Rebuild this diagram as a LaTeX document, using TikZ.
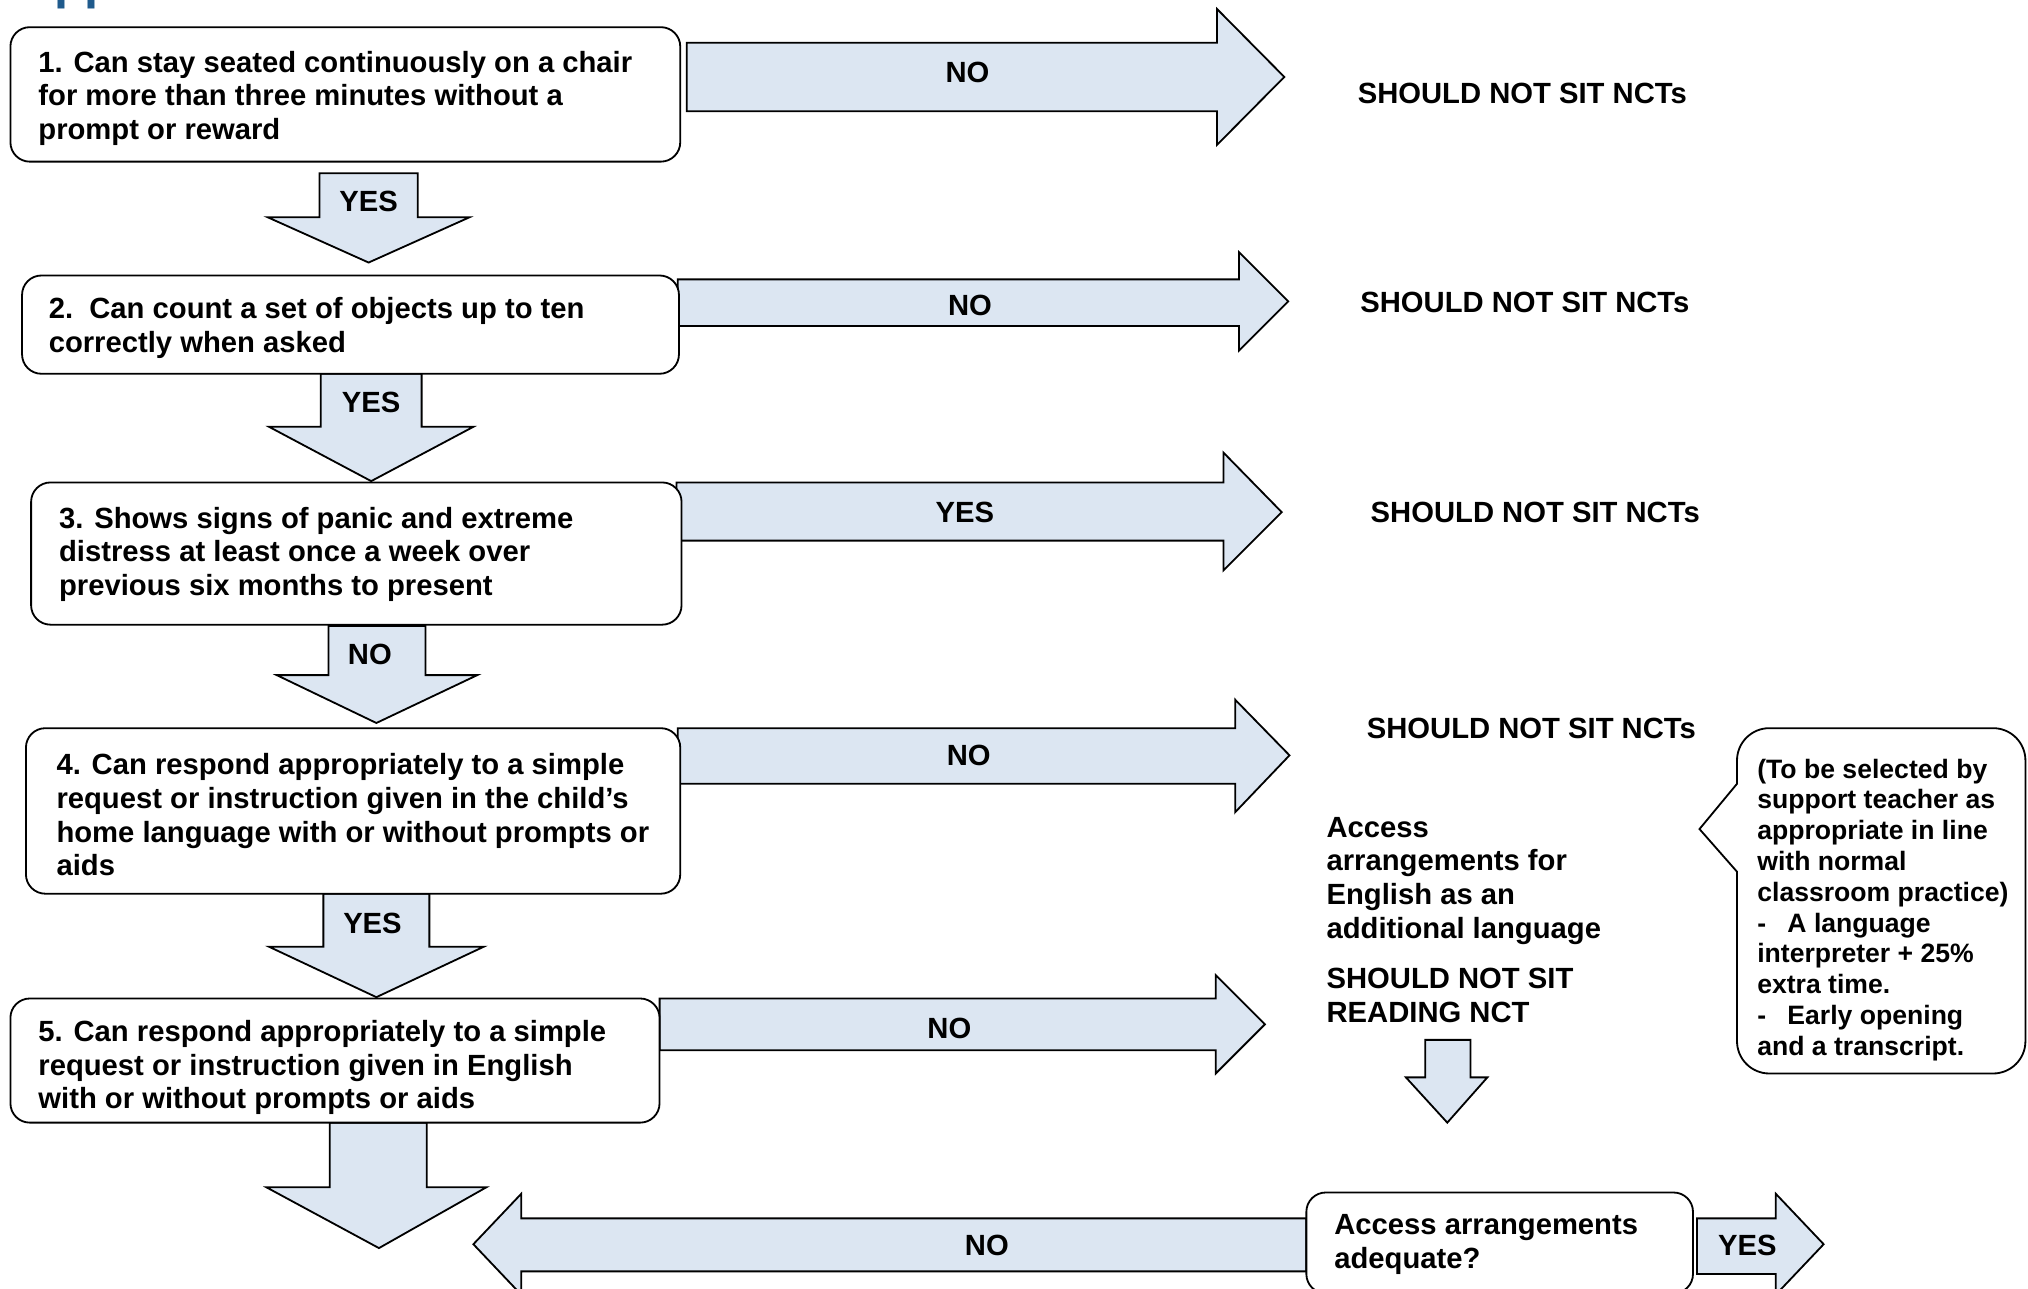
\documentclass[tikz,border=0pt]{standalone}
\usepackage{fontspec}
\setmainfont{Liberation Sans}
\usepackage{tikz}

\definecolor{armfill}{RGB}{220,230,242}
\definecolor{headblue}{RGB}{31,90,140}
\newcommand{\txt}{\bfseries\fontsize{12.86}{14.8}\selectfont}
\newcommand{\notetxt}{\bfseries\fontsize{11.7}{13.55}\selectfont}

\tikzset{
  qbox/.style={draw, fill=white, rounded corners=0.3cm, inner sep=0pt},
  qtext/.style={anchor=west, align=left, inner sep=0pt, font=\txt},
  fat/.style={draw, fill=armfill},
  lbl/.style={inner sep=0pt, font=\txt}
}

\begin{document}
\begin{tikzpicture}[x=0.02cm, y=-0.02cm, line width=0.8pt]
\useasboundingbox (0,0) rectangle (1568,996);
% heading, cut off at the top edge
\node[anchor=base west, inner sep=0pt, text=headblue, font=\bfseries\fontsize{22.2}{26}\selectfont] (head) at (13,-1) {Appendix};

% arrows to the right
\draw[fat] (531,33) -- (941,33) -- (941,7) -- (993,59.5) -- (941,112) -- (941,86) -- (531,86) -- cycle;
\draw[fat] (524,216) -- (958,216) -- (958,195) -- (996,233) -- (958,271) -- (958,252) -- (524,252) -- cycle;
\draw[fat] (523,373) -- (946,373) -- (946,350) -- (991,396) -- (946,441) -- (946,418) -- (523,418) -- cycle;
\draw[fat] (524,563) -- (955,563) -- (955,541) -- (997,584) -- (955,628) -- (955,606) -- (524,606) -- cycle;
\draw[fat] (510,772) -- (940,772) -- (940,754) -- (978,792) -- (940,830) -- (940,812) -- (510,812) -- cycle;
\draw[fat] (1312,942) -- (1373,942) -- (1373,923) -- (1410,962) -- (1373,1001) -- (1373,985) -- (1312,985) -- cycle;
% arrow to the left
\draw[fat] (1010,942) -- (403,942) -- (403,923) -- (366,962) -- (403,1001) -- (403,983) -- (1010,983) -- cycle;

% arrows down
\draw[fat] (247,134) -- (323,134) -- (323,168) -- (363,168) -- (285,203) -- (207,168) -- (247,168) -- cycle;
\draw[fat] (248,289) -- (326,289) -- (326,330) -- (366,330) -- (287,372) -- (208,330) -- (248,330) -- cycle;
\draw[fat] (254,484) -- (329,484) -- (329,522) -- (369,522) -- (291,559) -- (214,522) -- (254,522) -- cycle;
\draw[fat] (250,691) -- (332,691) -- (332,732) -- (374,732) -- (291,771) -- (208,732) -- (250,732) -- cycle;
\draw[fat] (255,868) -- (330,868) -- (330,918) -- (376,918) -- (293,965) -- (206,918) -- (255,918) -- cycle;
\draw[fat] (1102,804) -- (1137,804) -- (1137,833) -- (1150,833) -- (1119,868) -- (1087,833) -- (1102,833) -- cycle;

% question boxes
\node[qbox, minimum width=10.36cm, minimum height=2.08cm] (q1) at (267,73) {};
\node[qtext] (t1) at (29,76) {1. Can stay seated continuously on a chair\\for more than three minutes without a\\prompt or reward};
\node[qbox, minimum width=10.16cm, minimum height=1.52cm] (q2) at (271,251) {};
\node[qtext] (t2) at (37,253.5) {2.\ \ Can count a set of objects up to ten\\correctly when asked};
\node[qbox, minimum width=10.06cm, minimum height=2.2cm] (q3) at (275.5,428) {};
\node[qtext] (t3) at (45,428.5) {3. Shows signs of panic and extreme\\distress at least once a week over\\previous six months to present};
\node[qbox, minimum width=10.12cm, minimum height=2.56cm] (q4) at (273,627) {};
\node[qtext] (t4) at (43,630) {4. Can respond appropriately to a simple\\request or instruction given in the child’s\\home language with or without prompts or\\aids};
\node[qbox, minimum width=10.04cm, minimum height=1.92cm] (q5) at (259,820) {};
\node[qtext] (t5) at (29,825.5) {5. Can respond appropriately to a simple\\request or instruction given in English\\with or without prompts or aids};
\node[qbox, minimum width=5.98cm, minimum height=1.56cm] (q6) at (1159.5,961) {};
\node[qtext] (t6) at (1031,962) {Access arrangements\\adequate?};

% arrow labels
\node[lbl] (no1) at (748,56) {NO};
\node[lbl] (no2) at (750,236) {NO};
\node[lbl] (yes3) at (746,396) {YES};
\node[lbl] (no4) at (749,584) {NO};
\node[lbl] (no5) at (734,795) {NO};
\node[lbl] (no6) at (763,963) {NO};
\node[lbl] (yes6) at (1351,963) {YES};
\node[lbl] (yes1) at (285,156) {YES};
\node[lbl] (yes2) at (287,311) {YES};
\node[lbl] (no3) at (286,506) {NO};
\node[lbl] (yes4) at (288,714) {YES};

% outcomes
\node[lbl] (out1) at (1177,72) {SHOULD NOT SIT NCTs};
\node[lbl] (out2) at (1179,234) {SHOULD NOT SIT NCTs};
\node[lbl] (out3) at (1187,396) {SHOULD NOT SIT NCTs};
\node[lbl] (out4) at (1184,563) {SHOULD NOT SIT NCTs};
\node[qtext, anchor=north west] (eal) at (1025,631) {Access\\arrangements for\\English as an\\additional language\\[7.4pt]SHOULD NOT SIT\\READING NCT};

% note bubble
\draw[fill=white] (1314,641) -- (1343,674) [rounded corners=0.5cm] -- (1343,830) -- (1566,830) -- (1566,563) -- (1343,563) [sharp corners] -- (1343,606) -- cycle;
\node[anchor=north west, align=left, inner sep=0pt, font=\notetxt] (note) at (1358,586) {(To be selected by\\support teacher as\\appropriate in line\\with normal\\classroom practice)\\-\hspace{0.8em}A language\\interpreter + 25\%\\extra time.\\-\hspace{0.8em}Early opening\\and a transcript.};
\end{tikzpicture}
\end{document}
